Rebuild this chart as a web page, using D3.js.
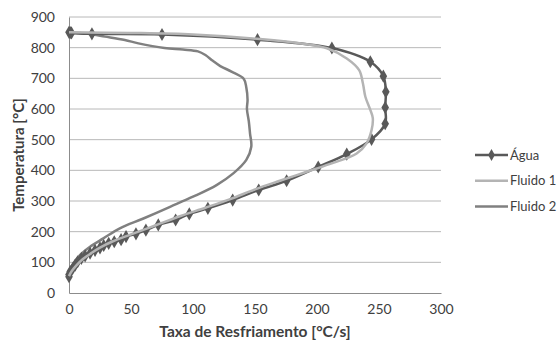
<!DOCTYPE html>
<html>
<head>
<meta charset="utf-8">
<script src="https://cdn.jsdelivr.net/npm/d3@7"></script>
<style>
	body { margin: 0; background: #fff; }
	svg text { font-family: Lato, "Open Sans", sans-serif; fill: #404040; }
</style>
</head>
<body>
<div id="chart"></div>
<script>
// values: [cooling rate °C/s, temperature °C]
var agua = [
	[0, 850], [1, 849], [2, 848], [18.5, 845], [75, 843], [152, 826], [212, 799],
	[243, 754], [253.5, 707], [255.5, 656], [255, 605], [255, 552], [244, 501],
	[224, 453], [201, 411], [175.5, 366], [153, 336], [132, 303], [112, 276],
	[97, 258], [86, 238], [72, 222], [62, 205], [54, 193], [46, 184], [42, 174],
	[36.5, 167], [32, 162], [28, 155], [25, 147], [21, 139], [17, 130], [13, 121],
	[10, 113], [7, 102], [5, 91], [3, 80], [1, 70], [0, 60], [0, 53]
];
var fluido1 = [
	[0, 850], [50, 848], [100, 843], [154, 828], [190, 812], [208, 798], [224, 765],
	[234, 727], [237, 684], [239, 640], [243, 597], [245, 570], [244, 531], [240, 488],
	[232, 455], [210, 420], [190, 393], [170, 366], [150, 338], [130, 306], [110, 278],
	[90, 251], [70, 221], [50, 191], [35, 168], [25, 148], [18, 130], [11, 110],
	[6, 90], [2, 70], [0, 55]
];
var fluido2 = [
	[0, 850], [15, 845], [29, 836], [45, 825], [56, 814], [77, 799], [92, 794],
	[104, 788], [110, 776], [116, 757], [122, 740], [131, 722], [141, 698], [143, 670],
	[144, 630], [143.5, 600], [145, 560], [146, 520], [147, 477], [143, 434],
	[132.5, 390], [119, 352], [100, 314], [81.5, 281], [60, 243], [41, 211],
	[27.7, 178], [17, 151], [9, 124], [2, 86], [0, 59]
];
var xTicks = [0, 50, 100, 150, 200, 250, 300];
var yTicks = [0, 100, 200, 300, 400, 500, 600, 700, 800, 900];
var seriesNames = ["Água", "Fluido 1", "Fluido 2"];
var seriesColors = ["#595959", "#b4b4b4", "#808080"];

var W = 560, H = 340;
var svg = d3.select("#chart").append("svg").attr("width", W).attr("height", H);

var x = d3.scaleLinear().domain([0, 300]).range([69, 441]);
var y = d3.scaleLinear().domain([0, 900]).range([293, 17]);

// gridlines
svg.append("g")
	.selectAll("line")
	.data(yTicks.slice(1))
	.enter()
	.append("line")
	.attr("x1", x(0)).attr("x2", x(300))
	.attr("y1", (d) => y(d)).attr("y2", (d) => y(d))
	.attr("stroke", "#b8b8b8").attr("stroke-width", 1);

// axes
var xAxis = svg.append("g")
	.attr("transform", "translate(0," + y(0) + ")")
	.call(d3.axisBottom(x).tickValues(xTicks).tickSize(0).tickPadding(11));
var yAxis = svg.append("g")
	.attr("transform", "translate(" + x(0) + ",0)")
	.call(d3.axisLeft(y).tickValues(yTicks).tickSize(0).tickPadding(14));
[xAxis, yAxis].forEach((ax) => {
	ax.select(".domain").attr("stroke", "#8c8c8c");
	ax.selectAll("text").attr("font-size", 14).attr("font-family", "Lato").attr("fill", "#404040");
});

// lines
var line = d3.line()
	.x((d) => x(d[0]))
	.y((d) => y(d[1]))
	.curve(d3.curveCatmullRom.alpha(0.5));

var data = [agua, fluido1, fluido2];
// draw Fluido 2 first, then Água, Fluido 1 on top
[2, 0, 1].forEach((i) => {
	svg.append("path")
		.datum(data[i])
		.attr("d", line)
		.attr("fill", "none")
		.attr("stroke", seriesColors[i])
		.attr("stroke-width", 2.5)
		.attr("stroke-linejoin", "round");
	if (i == 0) {
		svg.append("g")
			.selectAll("path")
			.data(agua)
			.enter()
			.append("path")
			.attr("d", d3.symbol().type(d3.symbolDiamond).size(50))
			.attr("transform", (d) => "translate(" + x(d[0]) + "," + y(d[1]) + ")")
			.attr("fill", seriesColors[0]);
	}
});

// legend
var legend = svg.append("g")
	.selectAll("g")
	.data(seriesNames)
	.enter()
	.append("g")
	.attr("transform", (d, i) => "translate(475," + (155 + i * 25.8) + ")");
legend.append("line")
	.attr("x1", 0).attr("x2", 33)
	.attr("stroke", (d, i) => seriesColors[i])
	.attr("stroke-width", 2.5);
legend.filter((d, i) => i == 0)
	.append("path")
	.attr("d", d3.symbol().type(d3.symbolDiamond).size(40))
	.attr("transform", "translate(16.5,0)")
	.attr("fill", seriesColors[0]);
legend.append("text")
	.attr("x", 35)
	.attr("dy", "0.35em")
	.attr("font-size", 13)
	.text((d) => d);

// axis titles
svg.append("text")
	.attr("x", 255).attr("y", 337)
	.attr("text-anchor", "middle")
	.attr("font-size", 15.5).attr("font-weight", "bold")
	.text("Taxa de Resfriamento [°C/s]");
svg.append("text")
	.attr("transform", "translate(24,155) rotate(-90)")
	.attr("text-anchor", "middle")
	.attr("font-size", 15).attr("font-weight", "bold")
	.text("Temperatura [°C]");
</script>
</body>
</html>
